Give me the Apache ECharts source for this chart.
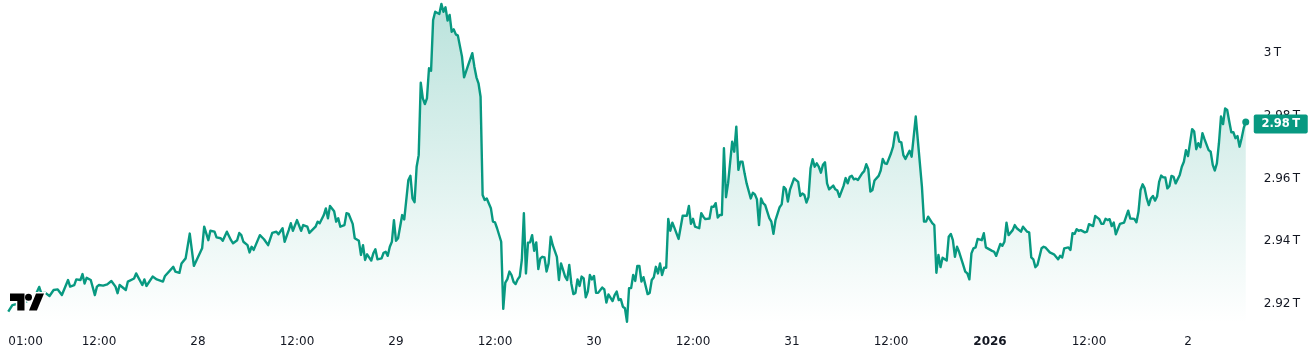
<!DOCTYPE html>
<html>
<head>
<meta charset="utf-8">
<style>html,body{margin:0;padding:0;background:#fff}#c{width:1315px;height:364px}</style>
<script src="https://cdn.jsdelivr.net/npm/echarts@6/dist/echarts.min.js"></script>
</head>
<body>
<div id="c"></div>
<script>
// Time of each observation, in quarter hours after 01:00 on 27 Dec.
const quarterHours = [0,2,8,12,13,15,16,18,20,22,24,26,27,29,30,32,33,35,36,37,38,40,42,43,44,46,48,50,52,53,54,57,58,61,62,65,66,67,70,72,75,76,80,81,83,84,86,88,90,94,95,97,98,100,101,103,104,106,108,109,111,112,113,114,116,117,118,119,122,124,126,128,130,131,133,134,136,137,138,140,142,143,145,146,149,150,151,153,154,155,156,158,159,160,161,163,164,165,167,168,170,171,172,173,174,176,177,178,179,181,182,183,184,185,186,187,188,189,191,192,194,195,196,197,198,199,200,201,202,203,204,205,206,207,209,210,211,212,213,214,215,216,217,218,220,221,223,225,226,227,228,229,230,231,232,234,235,236,237,239,240,241,242,243,244,245,246,247,248,249,250,251,252,253,254,255,256,257,258,259,260,261,262,263,264,266,267,268,269,270,271,272,273,274,275,276,277,278,279,280,281,282,283,284,285,286,288,289,290,291,293,294,295,296,297,298,299,300,301,302,303,304,305,306,307,308,310,311,312,313,314,315,316,317,318,319,320,321,322,323,325,327,329,330,331,332,333,335,336,337,338,340,341,342,343,344,345,346,347,348,349,351,352,353,354,355,356,357,358,360,361,362,363,364,365,366,367,369,370,371,372,374,375,376,377,378,379,381,383,384,385,386,387,388,389,390,391,392,393,394,395,396,397,398,400,401,402,403,405,406,407,408,409,410,411,412,414,415,416,417,418,419,420,422,423,424,425,426,428,429,430,431,432,433,434,435,437,438,440,442,443,444,445,446,448,449,450,451,452,453,455,456,457,458,459,460,461,463,464,465,466,467,468,469,470,472,473,474,477,478,479,481,482,483,484,485,487,488,489,491,492,494,495,496,497,498,499,501,502,503,505,507,508,509,510,511,512,514,515,516,517,518,519,520,522,523,524,526,527,529,530,531,532,533,534,535,536,537,539,541,542,543,544,546,547,548,549,550,551,552,553,554,555,556,557,558,559,560,561,562,563,564,565,566,568,569,570,571,572,574,575,576,577,578,579,580,582,583,584,585,586,587,588,589,590,591,592,593,594,595,596,597,598,599,600];
// Value in trillions.
const values = [2.9169,2.9190,2.9200,2.9209,2.9219,2.9248,2.9228,2.9229,2.9219,2.9238,2.9240,2.9222,2.9238,2.9270,2.9249,2.9254,2.9272,2.9270,2.9289,2.9259,2.9277,2.9270,2.9222,2.9249,2.9254,2.9252,2.9256,2.9267,2.9249,2.9228,2.9254,2.9238,2.9265,2.9275,2.9291,2.9254,2.9272,2.9251,2.9281,2.9272,2.9265,2.9283,2.9312,2.9297,2.9293,2.9323,2.9339,2.9418,2.9315,2.9371,2.9440,2.9397,2.9427,2.9424,2.9406,2.9403,2.9395,2.9424,2.9397,2.9387,2.9397,2.9420,2.9413,2.9392,2.9381,2.9358,2.9376,2.9366,2.9413,2.9400,2.9381,2.9420,2.9424,2.9416,2.9435,2.9392,2.9429,2.9451,2.9427,2.9461,2.9427,2.9445,2.9440,2.9420,2.9440,2.9456,2.9451,2.9477,2.9498,2.9467,2.9506,2.9489,2.9456,2.9467,2.9440,2.9445,2.9483,2.9481,2.9449,2.9403,2.9395,2.9350,2.9381,2.9334,2.9352,2.9332,2.9355,2.9368,2.9336,2.9339,2.9357,2.9360,2.9347,2.9376,2.9392,2.9461,2.9395,2.9403,2.9477,2.9463,2.9589,2.9602,2.9530,2.9518,2.9631,2.9668,2.9899,2.9849,2.9831,2.9849,2.9945,2.9937,3.0099,3.0125,3.0118,3.0150,3.0125,3.0139,3.0097,3.0115,3.0061,3.0069,3.0053,3.0049,2.9982,2.9916,2.9955,2.9993,2.9950,2.9916,2.9897,2.9854,2.9541,2.9525,2.9530,2.9499,2.9456,2.9454,2.9435,2.9392,2.9178,2.9262,2.9273,2.9297,2.9286,2.9264,2.9257,2.9272,2.9281,2.9334,2.9483,2.9291,2.9389,2.9390,2.9413,2.9363,2.9390,2.9305,2.9339,2.9344,2.9342,2.9297,2.9323,2.9408,2.9381,2.9344,2.9270,2.9323,2.9302,2.9281,2.9270,2.9318,2.9259,2.9225,2.9229,2.9272,2.9251,2.9281,2.9275,2.9215,2.9233,2.9286,2.9272,2.9283,2.9229,2.9229,2.9246,2.9240,2.9198,2.9224,2.9203,2.9222,2.9233,2.9206,2.9209,2.9185,2.9180,2.9137,2.9244,2.9244,2.9286,2.9267,2.9315,2.9315,2.9265,2.9279,2.9225,2.9229,2.9270,2.9279,2.9312,2.9291,2.9323,2.9286,2.9309,2.9309,2.9465,2.9427,2.9453,2.9436,2.9401,2.9475,2.9475,2.9506,2.9449,2.9465,2.9440,2.9435,2.9483,2.9472,2.9464,2.9466,2.9504,2.9503,2.9515,2.9469,2.9477,2.9477,2.9690,2.9534,2.9578,2.9711,2.9679,2.9759,2.9621,2.9647,2.9647,2.9610,2.9578,2.9530,2.9548,2.9543,2.9527,2.9445,2.9530,2.9515,2.9509,2.9467,2.9456,2.9417,2.9461,2.9502,2.9511,2.9567,2.9559,2.9520,2.9557,2.9594,2.9583,2.9538,2.9546,2.9541,2.9517,2.9534,2.9626,2.9655,2.9631,2.9642,2.9631,2.9612,2.9637,2.9645,2.9578,2.9559,2.9571,2.9559,2.9555,2.9535,2.9570,2.9595,2.9578,2.9599,2.9602,2.9591,2.9593,2.9589,2.9610,2.9617,2.9639,2.9623,2.9552,2.9557,2.9587,2.9602,2.9619,2.9656,2.9642,2.9640,2.9674,2.9695,2.9740,2.9740,2.9711,2.9709,2.9668,2.9656,2.9682,2.9663,2.9791,2.9642,2.9567,2.9456,2.9456,2.9472,2.9451,2.9445,2.9293,2.9350,2.9311,2.9341,2.9332,2.9408,2.9417,2.9397,2.9344,2.9376,2.9360,2.9318,2.9297,2.9291,2.9272,2.9355,2.9371,2.9374,2.9401,2.9397,2.9419,2.9374,2.9363,2.9360,2.9347,2.9385,2.9379,2.9392,2.9453,2.9413,2.9429,2.9445,2.9435,2.9424,2.9440,2.9424,2.9422,2.9342,2.9336,2.9311,2.9318,2.9371,2.9376,2.9373,2.9358,2.9352,2.9344,2.9336,2.9347,2.9342,2.9371,2.9374,2.9366,2.9419,2.9417,2.9432,2.9427,2.9429,2.9422,2.9424,2.9448,2.9442,2.9474,2.9464,2.9449,2.9449,2.9465,2.9461,2.9464,2.9442,2.9453,2.9416,2.9449,2.9453,2.9472,2.9491,2.9466,2.9465,2.9454,2.9488,2.9557,2.9575,2.9562,2.9530,2.9509,2.9530,2.9538,2.9523,2.9536,2.9583,2.9603,2.9597,2.9597,2.9562,2.9570,2.9602,2.9599,2.9578,2.9605,2.9631,2.9647,2.9684,2.9665,2.9751,2.9743,2.9687,2.9706,2.9693,2.9738,2.9719,2.9684,2.9679,2.9637,2.9619,2.9642,2.9706,2.9791,2.9767,2.9817,2.9812,2.9775,2.9741,2.9741,2.9722,2.9729,2.9695,2.9722,2.9754,2.9774];

const xTicks = [0,44,92,140,188,236,284,332,380,428,476,524,572];
const xTickLabels = ['01:00','12:00','28','12:00','29','12:00','30','12:00','31','12:00','2026','12:00','2'];
const yTicks = [2.92,2.94,2.96,2.98,3];
const yTickLabels = ['2.92\u202FT','2.94\u202FT','2.96\u202FT','2.98\u202FT','3\u202FT'];
const lastLabel = '2.98\u202FT';

const GREEN = '#089981';
const FONT = 'DejaVu Sans';
const chart = echarts.init(document.getElementById('c'), null, {renderer:'canvas'});

const lineData = quarterHours.map((q, i) => {
  if (i === quarterHours.length - 1) return {value:[q, values[i]], symbol:'circle', symbolSize:7};
  return {value:[q, values[i]]};
});

const logoBar = [[10,293.5],[24.5,293.5],[24.5,310.5],[17.3,310.5],[17.3,301],[10,301]];
const logoSlash = [[36,293.5],[44,293.5],[36.9,310.5],[29,310.5]];
chart.setOption({
  animation:false,
  backgroundColor:'#ffffff',
  grid:{left:8.25, top:0, width:1237.5, height:323, containLabel:false},
  xAxis:{
    type:'value', min:0, max:600,
    axisLine:{show:false}, splitLine:{show:false},
    axisTick:{show:false},
    axisLabel:{
      customValues:xTicks,
      alignMinLabel:'left',
      margin:13,
      color:'#131722', fontSize:12, fontFamily:FONT,
      formatter:(v)=>{
        const t = xTickLabels[xTicks.indexOf(v)];
        return t === '2026' ? '{b|2026}' : t;
      },
      rich:{b:{fontWeight:'bold', color:'#131722', fontSize:12, fontFamily:FONT}}
    }
  },
  yAxis:{
    type:'value', position:'right',
    min:2.9133, max:3.01625,
    axisLine:{show:false}, splitLine:{show:false},
    axisTick:{show:false},
    axisLabel:{
      customValues:yTicks,
      margin:18,
      color:'#131722', fontSize:12, fontFamily:FONT,
      formatter:(v)=>'{t|'+yTickLabels[yTicks.findIndex(t=>Math.abs(t-v)<1e-6)]+'}',
      rich:{t:{color:'#131722', fontSize:12, fontFamily:FONT, padding:[4,0,0,0]}}
    }
  },
  series:[{
    type:'line',
    data:lineData,
    symbol:'none',
    showSymbol:true,
    showAllSymbol:true,
    clip:false,
    z:5,
    lineStyle:{color:GREEN, width:2.4, join:'round'},
    itemStyle:{color:GREEN},
    areaStyle:{opacity:1, color:new echarts.graphic.LinearGradient(0,0,0,1,[
      {offset:0,color:'rgba(8,153,129,0.28)'},
      {offset:1,color:'rgba(8,153,129,0.0)'}
    ])},
    endLabel:{
      show:true,
      formatter:()=>lastLabel,
      color:'#ffffff',
      fontSize:11.5, fontWeight:'bold', fontFamily:FONT,
      backgroundColor:GREEN,
      borderRadius:2,
      width:54, height:19, lineHeight:19, align:'center',
      offset:[27,2]
    }
  }],
  graphic:[
    {type:'polygon', z:100, shape:{points:logoBar}, style:{fill:'#000', stroke:'#fff', lineWidth:3}},
    {type:'circle', z:100, shape:{cx:28.5,cy:297.3,r:3.5}, style:{fill:'#000', stroke:'#fff', lineWidth:3}},
    {type:'polygon', z:100, shape:{points:logoSlash}, style:{fill:'#000', stroke:'#fff', lineWidth:3}},
    {type:'polygon', z:101, shape:{points:logoBar}, style:{fill:'#000'}},
    {type:'circle', z:101, shape:{cx:28.5,cy:297.3,r:3.5}, style:{fill:'#000'}},
    {type:'polygon', z:101, shape:{points:logoSlash}, style:{fill:'#000'}}
  ]
});
</script>
</body>
</html>
